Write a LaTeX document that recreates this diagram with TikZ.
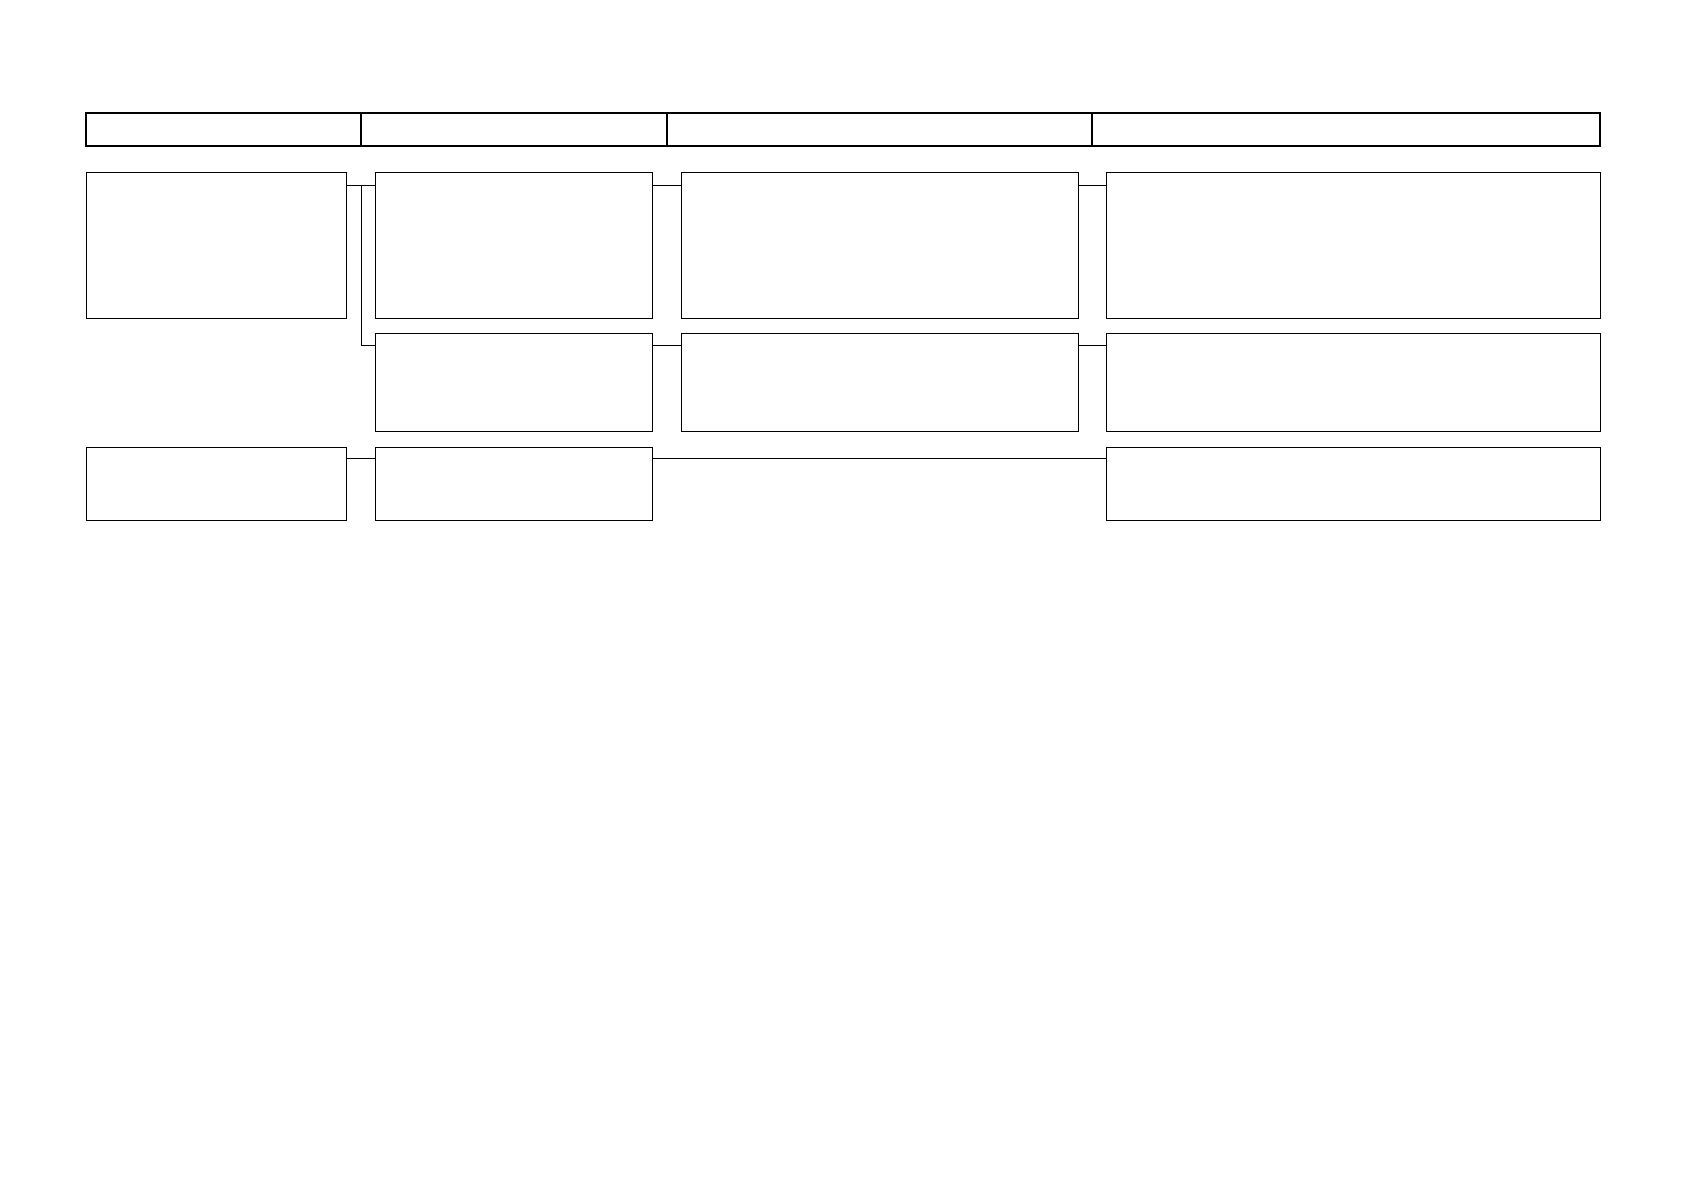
\documentclass[tikz,border=0pt]{standalone}
\usepackage{amsmath,amssymb}
\usepackage{tikz}

\tikzset{
  head/.style={draw,line width=1pt,inner sep=0pt,outer sep=0pt,anchor=north west,minimum height=16.5pt},
  box/.style={draw,line width=0.5pt,inner sep=0pt,outer sep=0pt,anchor=north west},
  link/.style={line width=0.5pt}
}

\begin{document}
\begin{tikzpicture}[x=0.5pt,y=-0.5pt]
  \useasboundingbox (0,0) rectangle (1684,1191);

  % header row
  \node[head,minimum width=137.5pt] (h1) at (86,113) {};
  \node[head,minimum width=153pt] (h2) at (361,113) {};
  \node[head,minimum width=212.5pt] (h3) at (667,113) {};
  \node[head,minimum width=254pt] (h4) at (1092,113) {};

  % first block
  \node[box,minimum width=130pt,minimum height=73pt] (b11) at (86,172) {};
  \node[box,minimum width=138.5pt,minimum height=73pt] (b21) at (375.5,172) {};
  \node[box,minimum width=198.75pt,minimum height=73pt] (b31) at (681,172) {};
  \node[box,minimum width=247pt,minimum height=73pt] (b41) at (1106,172) {};

  \node[box,minimum width=138.5pt,minimum height=49pt] (b22) at (375.5,333) {};
  \node[box,minimum width=198.75pt,minimum height=49pt] (b32) at (681,333) {};
  \node[box,minimum width=247pt,minimum height=49pt] (b42) at (1106,333) {};

  % second block
  \node[box,minimum width=130pt,minimum height=36.5pt] (b13) at (86,447) {};
  \node[box,minimum width=138.5pt,minimum height=36.5pt] (b23) at (375.5,447) {};
  \node[box,minimum width=247pt,minimum height=36.5pt] (b43) at (1106,447) {};

  % connectors
  \draw[link] ([yshift=-6.5pt]b11.north east) -- ([yshift=-6.5pt]b21.north west);
  \draw[link] ([yshift=-6.5pt]b21.north west) ++(-14,0) |- ([yshift=-6pt]b22.north west);
  \draw[link] ([yshift=-6.5pt]b21.north east) -- ([yshift=-6.5pt]b31.north west);
  \draw[link] ([yshift=-6.5pt]b31.north east) -- ([yshift=-6.5pt]b41.north west);
  \draw[link] ([yshift=-6pt]b22.north east) -- ([yshift=-6pt]b32.north west);
  \draw[link] ([yshift=-6pt]b32.north east) -- ([yshift=-6pt]b42.north west);
  \draw[link] ([yshift=-5.5pt]b13.north east) -- ([yshift=-5.5pt]b23.north west);
  \draw[link] ([yshift=-5.5pt]b23.north east) -- ([yshift=-5.5pt]b43.north west);

\end{tikzpicture}
\end{document}
